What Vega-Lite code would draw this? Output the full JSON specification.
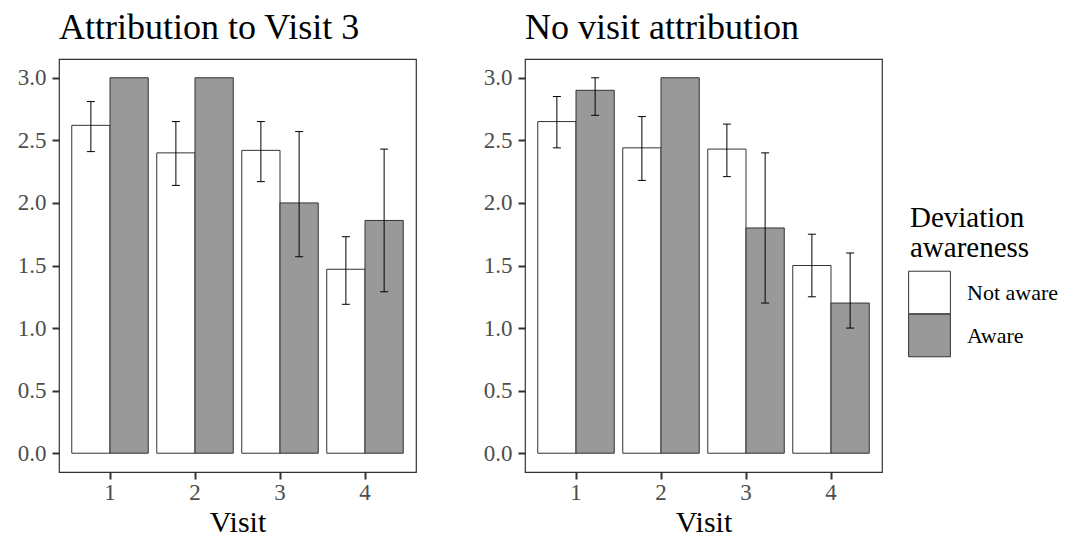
{
  "$schema": "https://vega.github.io/schema/vega-lite/v6.json",
  "padding": {"left": 16, "top": 10, "right": 5, "bottom": 5},
  "data": {
    "values": [
      {"panel": "Attribution to Visit 3", "visit": "1", "awareness": "Not aware", "mean": 2.62, "lo": 2.41, "hi": 2.81},
      {"panel": "Attribution to Visit 3", "visit": "1", "awareness": "Aware", "mean": 3.0, "lo": null, "hi": null},
      {"panel": "Attribution to Visit 3", "visit": "2", "awareness": "Not aware", "mean": 2.40, "lo": 2.14, "hi": 2.65},
      {"panel": "Attribution to Visit 3", "visit": "2", "awareness": "Aware", "mean": 3.0, "lo": null, "hi": null},
      {"panel": "Attribution to Visit 3", "visit": "3", "awareness": "Not aware", "mean": 2.42, "lo": 2.17, "hi": 2.65},
      {"panel": "Attribution to Visit 3", "visit": "3", "awareness": "Aware", "mean": 2.0, "lo": 1.57, "hi": 2.57},
      {"panel": "Attribution to Visit 3", "visit": "4", "awareness": "Not aware", "mean": 1.47, "lo": 1.19, "hi": 1.73},
      {"panel": "Attribution to Visit 3", "visit": "4", "awareness": "Aware", "mean": 1.86, "lo": 1.29, "hi": 2.43},
      {"panel": "No visit attribution", "visit": "1", "awareness": "Not aware", "mean": 2.65, "lo": 2.44, "hi": 2.85},
      {"panel": "No visit attribution", "visit": "1", "awareness": "Aware", "mean": 2.90, "lo": 2.70, "hi": 3.0},
      {"panel": "No visit attribution", "visit": "2", "awareness": "Not aware", "mean": 2.44, "lo": 2.18, "hi": 2.69},
      {"panel": "No visit attribution", "visit": "2", "awareness": "Aware", "mean": 3.0, "lo": null, "hi": null},
      {"panel": "No visit attribution", "visit": "3", "awareness": "Not aware", "mean": 2.43, "lo": 2.21, "hi": 2.63},
      {"panel": "No visit attribution", "visit": "3", "awareness": "Aware", "mean": 1.80, "lo": 1.20, "hi": 2.40},
      {"panel": "No visit attribution", "visit": "4", "awareness": "Not aware", "mean": 1.50, "lo": 1.25, "hi": 1.75},
      {"panel": "No visit attribution", "visit": "4", "awareness": "Aware", "mean": 1.20, "lo": 1.00, "hi": 1.60}
    ]
  },
  "facet": {
    "column": {
      "field": "panel",
      "type": "nominal",
      "sort": ["Attribution to Visit 3", "No visit attribution"],
      "header": {
        "title": null,
        "labelFont": "Liberation Serif",
        "labelFontSize": 36,
        "labelColor": "black",
        "labelAnchor": "start",
        "labelAlign": "left",
        "labelPadding": 11
      }
    }
  },
  "spacing": {"column": 65},
  "resolve": {"axis": {"y": "independent", "x": "independent"}},
  "spec": {
    "width": 357,
    "height": 413,
    "encoding": {
      "x": {
        "field": "visit",
        "type": "ordinal",
        "title": "Visit",
        "scale": {"paddingInner": 0.1, "paddingOuter": 0.15},
        "axis": {"labelAngle": 0, "labelPadding": 2, "titlePadding": 3}
      },
      "xOffset": {
        "field": "awareness",
        "type": "nominal",
        "sort": ["Not aware", "Aware"],
        "scale": {"paddingInner": 0, "paddingOuter": 0}
      }
    },
    "layer": [
      {
        "mark": {"type": "bar", "stroke": "#333333", "strokeWidth": 1},
        "encoding": {
          "y": {
            "field": "mean",
            "type": "quantitative",
            "title": null,
            "scale": {"domain": [-0.15, 3.15], "nice": false, "zero": false},
            "axis": {"values": [0, 0.5, 1, 1.5, 2, 2.5, 3], "format": ".1f", "labelPadding": 6}
          },
          "y2": {"datum": 0},
          "color": {
            "field": "awareness",
            "type": "nominal",
            "title": ["Deviation", "awareness"],
            "scale": {"domain": ["Not aware", "Aware"], "range": ["#ffffff", "#999999"]},
            "legend": {
              "orient": "none",
              "legendX": 851,
              "legendY": 145,
              "symbolType": "M-1.1,-1.12H1.1V1.12H-1.1Z",
              "symbolSize": 1444,
              "symbolStrokeColor": "#333333",
              "symbolStrokeWidth": 1,
              "symbolOpacity": 1,
              "rowPadding": -5,
              "labelOffset": 18,
              "titlePadding": 10,
              "titleLineHeight": 30
            }
          }
        }
      },
      {
        "mark": {"type": "rule", "color": "black", "strokeWidth": 1},
        "encoding": {
          "y": {"field": "lo", "type": "quantitative"},
          "y2": {"field": "hi"}
        }
      },
      {
        "mark": {"type": "point", "shape": "M-1,0H1", "size": 64, "filled": false, "stroke": "black", "strokeWidth": 1, "opacity": 1},
        "encoding": {"y": {"field": "lo", "type": "quantitative"}}
      },
      {
        "mark": {"type": "point", "shape": "M-1,0H1", "size": 64, "filled": false, "stroke": "black", "strokeWidth": 1, "opacity": 1},
        "encoding": {"y": {"field": "hi", "type": "quantitative"}}
      }
    ]
  },
  "config": {
    "font": "Liberation Serif",
    "view": {"stroke": "#333333", "strokeWidth": 1.2},
    "axis": {
      "labelFont": "Liberation Serif",
      "labelFontSize": 23,
      "labelColor": "#4d4d4d",
      "tickColor": "#333333",
      "tickSize": 7,
      "tickWidth": 2,
      "domain": false,
      "grid": false,
      "titleFont": "Liberation Serif",
      "titleFontSize": 30,
      "titleFontWeight": "normal",
      "titleColor": "black"
    },
    "legend": {
      "titleFont": "Liberation Serif",
      "titleFontSize": 29,
      "titleFontWeight": "normal",
      "titleColor": "black",
      "labelFont": "Liberation Serif",
      "labelFontSize": 22,
      "labelColor": "black"
    }
  }
}
